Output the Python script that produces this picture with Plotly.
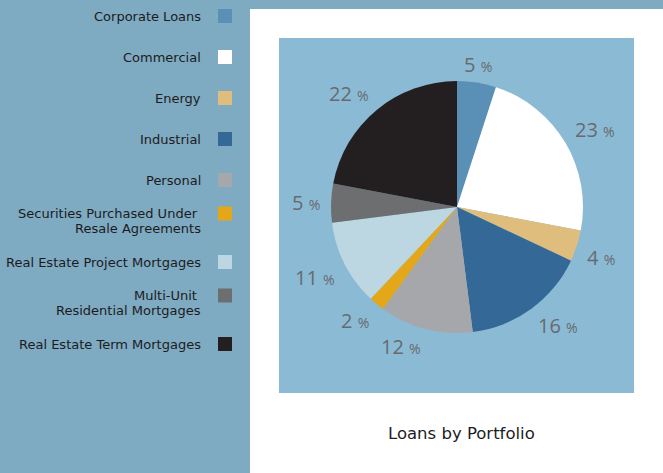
import math
import plotly.graph_objects as go

W, H = 663, 473

categories = [
    "Corporate Loans", "Commercial", "Energy", "Industrial", "Personal",
    "Securities Purchased Under Resale Agreements", "Real Estate Project Mortgages",
    "Multi-Unit Residential Mortgages", "Real Estate Term Mortgages",
]
legend_labels = [
    "Corporate Loans", "Commercial", "Energy", "Industrial", "Personal",
    "Securities Purchased Under <br>Resale Agreements", "Real Estate Project Mortgages",
    "Multi-Unit <br>Residential Mortgages", "Real Estate Term Mortgages",
]
values = [5, 23, 4, 16, 12, 2, 11, 5, 22]
colors = ["#5a90b5", "#ffffff", "#dfbd7c", "#336897", "#a6a7ab",
          "#e3a719", "#bcd6e2", "#6d6e70", "#231f20"]
title_text = "Loans by Portfolio"


def px(x):
    return x / W


def py(y):
    return 1 - y / H


# pie geometry (pixels)
CX, CY, R = 457, 207, 126
LABEL_R = 135
HALF_H = 9

fig = go.Figure()
fig.add_trace(go.Pie(
    labels=categories, values=values, sort=False, direction="clockwise", rotation=0,
    marker=dict(colors=colors, line=dict(width=0)),
    textinfo="none",
    showlegend=False, hoverinfo="label+percent",
    domain=dict(x=[px(CX - R), px(CX + R)], y=[py(CY + R), py(CY - R)]),
))

shapes = [
    dict(type="rect", xref="paper", yref="paper", x0=px(250), x1=1, y0=0, y1=py(9),
         fillcolor="#ffffff", line=dict(width=0), layer="below"),
    dict(type="rect", xref="paper", yref="paper", x0=px(279), x1=px(634), y0=py(393), y1=py(38),
         fillcolor="#8bbad5", line=dict(width=0), layer="below"),
]
annotations = []

# slice value labels, placed just outside each slice's mid-angle
total = sum(values)
cum = 0
for v in values:
    mid = (cum + v / 2) / total * 2 * math.pi
    cum += v
    s, c = math.sin(mid), math.cos(mid)
    lx = CX + LABEL_R * s
    ly = CY - LABEL_R * c
    if abs(c) >= 0.2:
        ly -= HALF_H if c > 0 else -HALF_H
    xa = "center" if abs(s) < 0.2 else ("left" if s > 0 else "right")
    annotations.append(dict(
        text=f"{v} <span style='font-size:14px'>%</span>",
        xref="paper", yref="paper", x=px(lx), y=py(ly),
        xanchor=xa, yanchor="middle", showarrow=False,
        font=dict(family="Open Sans", size=20, color="#686a6d"),
    ))

# legend
row0, step, line_h = 16, 41, 15
for i, (lab, col) in enumerate(zip(legend_labels, colors)):
    yc = row0 + i * step
    lines = lab.split("<br>")
    n = len(lines)
    for k, ln in enumerate(lines):
        ly = yc + (k - (n - 1) / 2) * line_h
        annotations.append(dict(
            text=ln, xref="paper", yref="paper", x=px(203), y=py(ly),
            xanchor="right", yanchor="middle", align="right", showarrow=False,
            font=dict(family="DejaVu Sans", size=13, color="#1c1c1e"),
        ))
    my = yc - (n - 1) / 2 * line_h
    shapes.append(dict(
        type="rect", xref="paper", yref="paper", x0=px(218), x1=px(232),
        y0=py(my + 7), y1=py(my - 7), fillcolor=col, line=dict(width=0),
    ))

annotations.append(dict(
    text=title_text, xref="paper", yref="paper", x=px(461), y=py(433),
    xanchor="center", yanchor="middle", showarrow=False,
    font=dict(family="DejaVu Sans", size=16.5, color="#1c1c1e"),
))

fig.update_layout(
    width=W, height=H, margin=dict(l=0, r=0, t=0, b=0),
    paper_bgcolor="#7eaac2", plot_bgcolor="#7eaac2",
    shapes=shapes, annotations=annotations,
)

fig.write_html(
    "out.html",
    config={"displayModeBar": False},
    post_script="document.body.style.margin='0';document.body.style.padding='0';"
                "document.body.style.overflow='hidden';",
)
